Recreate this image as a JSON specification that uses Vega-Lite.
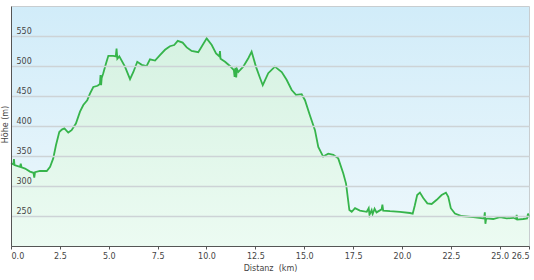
{
  "$schema": "https://vega.github.io/schema/vega-lite/v6.json",
  "width": 518,
  "height": 240,
  "autosize": {"type": "none"},
  "padding": {"left": 11, "top": 6, "right": 5, "bottom": 34},
  "background": "#ffffff",
  "config": {
    "font": "DejaVu Sans",
    "view": {
      "stroke": "#c8cdd0",
      "fill": {"gradient": "linear", "x1": 0, "y1": 0, "x2": 0, "y2": 1, "stops": [{"offset": 0, "color": "#d1ecf9"}, {"offset": 1, "color": "#eef8fc"}]}
    }
  },
  "data": {
    "values": [
      {"km": 0.0, "m": 338}, {"km": 0.12, "m": 336}, {"km": 0.15, "m": 345}, {"km": 0.18, "m": 335},
      {"km": 0.46, "m": 332}, {"km": 0.5, "m": 337}, {"km": 0.54, "m": 331}, {"km": 0.72, "m": 329},
      {"km": 0.97, "m": 324}, {"km": 1.15, "m": 322}, {"km": 1.19, "m": 314}, {"km": 1.23, "m": 323},
      {"km": 1.48, "m": 325}, {"km": 1.83, "m": 325}, {"km": 2.0, "m": 332}, {"km": 2.16, "m": 346},
      {"km": 2.3, "m": 368}, {"km": 2.47, "m": 390}, {"km": 2.6, "m": 394}, {"km": 2.73, "m": 396},
      {"km": 2.93, "m": 389}, {"km": 3.1, "m": 393}, {"km": 3.32, "m": 404}, {"km": 3.53, "m": 424},
      {"km": 3.7, "m": 435}, {"km": 3.9, "m": 443}, {"km": 4.04, "m": 454}, {"km": 4.21, "m": 465},
      {"km": 4.43, "m": 467}, {"km": 4.55, "m": 470}, {"km": 4.58, "m": 485}, {"km": 4.61, "m": 468},
      {"km": 4.64, "m": 480}, {"km": 4.72, "m": 488}, {"km": 4.86, "m": 504}, {"km": 4.98, "m": 517},
      {"km": 5.23, "m": 517}, {"km": 5.36, "m": 516}, {"km": 5.4, "m": 529}, {"km": 5.44, "m": 512},
      {"km": 5.54, "m": 516}, {"km": 5.83, "m": 499}, {"km": 6.09, "m": 478}, {"km": 6.26, "m": 490},
      {"km": 6.46, "m": 507}, {"km": 6.69, "m": 502}, {"km": 6.94, "m": 500}, {"km": 7.11, "m": 511},
      {"km": 7.37, "m": 509}, {"km": 7.62, "m": 518}, {"km": 7.88, "m": 527}, {"km": 8.13, "m": 533},
      {"km": 8.35, "m": 535}, {"km": 8.53, "m": 542}, {"km": 8.78, "m": 539}, {"km": 8.99, "m": 531},
      {"km": 9.24, "m": 525}, {"km": 9.58, "m": 523}, {"km": 9.75, "m": 532}, {"km": 10.01, "m": 546},
      {"km": 10.27, "m": 535}, {"km": 10.49, "m": 521}, {"km": 10.66, "m": 516}, {"km": 10.69, "m": 525},
      {"km": 10.72, "m": 512}, {"km": 10.95, "m": 507}, {"km": 11.2, "m": 500}, {"km": 11.4, "m": 493},
      {"km": 11.44, "m": 482}, {"km": 11.48, "m": 497}, {"km": 11.52, "m": 481}, {"km": 11.56, "m": 495},
      {"km": 11.63, "m": 490}, {"km": 11.88, "m": 499}, {"km": 12.14, "m": 513}, {"km": 12.31, "m": 524},
      {"km": 12.53, "m": 499}, {"km": 12.74, "m": 480}, {"km": 12.88, "m": 468}, {"km": 13.16, "m": 488},
      {"km": 13.5, "m": 499}, {"km": 13.85, "m": 490}, {"km": 14.1, "m": 477}, {"km": 14.36, "m": 460},
      {"km": 14.58, "m": 452}, {"km": 14.87, "m": 453}, {"km": 15.04, "m": 443}, {"km": 15.29, "m": 418},
      {"km": 15.55, "m": 393}, {"km": 15.72, "m": 365}, {"km": 15.97, "m": 349}, {"km": 16.23, "m": 354},
      {"km": 16.49, "m": 352}, {"km": 16.74, "m": 346}, {"km": 17.0, "m": 321}, {"km": 17.14, "m": 304},
      {"km": 17.31, "m": 260}, {"km": 17.43, "m": 257}, {"km": 17.6, "m": 263}, {"km": 17.85, "m": 259},
      {"km": 18.2, "m": 257}, {"km": 18.3, "m": 263}, {"km": 18.34, "m": 252}, {"km": 18.45, "m": 260},
      {"km": 18.5, "m": 253}, {"km": 18.6, "m": 262}, {"km": 18.7, "m": 256}, {"km": 18.96, "m": 261},
      {"km": 19.0, "m": 269}, {"km": 19.04, "m": 259}, {"km": 19.39, "m": 258}, {"km": 19.9, "m": 257},
      {"km": 20.41, "m": 255}, {"km": 20.55, "m": 254}, {"km": 20.66, "m": 268}, {"km": 20.78, "m": 285},
      {"km": 20.92, "m": 289}, {"km": 21.09, "m": 280}, {"km": 21.3, "m": 271}, {"km": 21.52, "m": 270},
      {"km": 21.78, "m": 277}, {"km": 22.03, "m": 285}, {"km": 22.25, "m": 289}, {"km": 22.37, "m": 282},
      {"km": 22.5, "m": 263}, {"km": 22.71, "m": 254}, {"km": 23.05, "m": 250}, {"km": 23.65, "m": 248},
      {"km": 24.2, "m": 246}, {"km": 24.24, "m": 256}, {"km": 24.27, "m": 237}, {"km": 24.31, "m": 246},
      {"km": 24.67, "m": 245}, {"km": 25.01, "m": 248}, {"km": 25.36, "m": 246}, {"km": 25.7, "m": 247},
      {"km": 25.84, "m": 245}, {"km": 25.87, "m": 252}, {"km": 25.9, "m": 244}, {"km": 26.2, "m": 245},
      {"km": 26.4, "m": 246}, {"km": 26.45, "m": 254}, {"km": 26.5, "m": 248}
    ]
  },
  "encoding": {
    "x": {
      "field": "km",
      "type": "quantitative",
      "scale": {"domain": [0, 26.5], "nice": false},
      "axis": {
        "values": [0, 2.5, 5, 7.5, 10, 12.5, 15, 17.5, 20, 22.5, 25, 26.5],
        "format": ".1f",
        "title": "Distanz\u00a0 (km)",
        "grid": false,
        "tickSize": 3,
        "tickColor": "#555555",
        "domainColor": "#555555",
        "labelColor": "#444444",
        "labelFontSize": 8,
        "labelPadding": 3,
        "titleColor": "#444444",
        "titleFontSize": 8,
        "titleFontWeight": "normal",
        "titlePadding": 4
      }
    },
    "y": {
      "field": "m",
      "type": "quantitative",
      "scale": {"domain": [200, 600], "nice": false, "zero": false},
      "axis": {
        "zindex": 1,
        "values": [250, 300, 350, 400, 450, 500, 550],
        "title": "Höhe (m)",
        "grid": true,
        "gridColor": "#cdd3d6",
        "gridWidth": 1.5,
        "ticks": false,
        "domainColor": "#555555",
        "labelAlign": "left",
        "labelBaseline": "alphabetic",
        "labelPadding": -5,
        "labelOffset": -3,
        "labelColor": "#444444",
        "labelFontSize": 8,
        "titleColor": "#444444",
        "titleFontSize": 8,
        "titleFontWeight": "normal",
        "titleAngle": -90,
        "titleBaseline": "bottom",
        "titleX": -2,
        "titleY": 118
      }
    }
  },
  "layer": [
    {
      "mark": {
        "type": "area",
        "color": {"gradient": "linear", "x1": 0, "y1": 0, "x2": 0, "y2": 1, "stops": [{"offset": 0, "color": "#d6f2e2"}, {"offset": 1, "color": "#ecfbf2"}]}
      },
      "encoding": {"y2": {"datum": 200}}
    },
    {
      "mark": {"type": "line", "color": "#36b44b", "strokeWidth": 1.8}
    }
  ]
}
